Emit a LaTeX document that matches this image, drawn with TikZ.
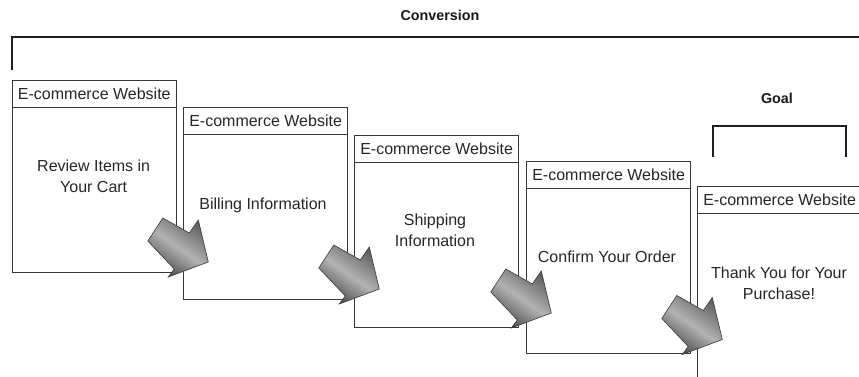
\documentclass[tikz,border=0pt]{standalone}
\usepackage{fontspec}
\setmainfont{Liberation Sans}
\begin{document}
\begin{tikzpicture}[x=1pt,y=-1pt,
  hdr/.style={draw=black!78, line width=1.2pt, fill=white, minimum width=164pt, minimum height=27pt, inner sep=0pt, anchor=north west, text=black!85, font=\fontsize{16}{18}\selectfont},
  bodybox/.style={draw=black!78, line width=1.2pt, fill=white, minimum width=164pt, minimum height=165pt, inner sep=0pt, anchor=north west},
  bodytext/.style={align=center, inner sep=0pt, text=black!85, font=\fontsize{16}{21}\selectfont},
  bracket/.style={draw=black!88, line width=2.4pt},
  titletext/.style={inner sep=0pt, text=black!90, font=\fontsize{14.3}{16}\selectfont\bfseries},
  flowarrow/.pic={
    \shade[draw=black!78, line width=0.6pt, top color=black!62, bottom color=black!72, middle color=black!30, shading angle=-35]
      (-45.5,-44) -- (-19,-29) -- (-10,-42) -- (0,0) -- (-40,15) -- (-34,7) -- (-60.5,-21) -- cycle;
  }]
\useasboundingbox (0,0) rectangle (859,377);
\clip (0,0) rectangle (859,377);

% titles and brackets
\node[titletext] (conv) at (440,15) {Conversion};
\draw[bracket] (11.7,70) -- (11.7,37.3) -- (870,37.3);
\node[titletext] (goal) at (777,98) {Goal};
\draw[bracket] (712.7,157) -- (712.7,126) -- (845.7,126) -- (845.7,157);

% box 1
\node[bodybox] (b1) at (11.7,107) {};
\node[hdr] (h1) at (11.7,80) {E-commerce Website};
\node[bodytext] (t1) at (93.7,176.5) {Review Items in\\Your Cart};
% box 2
\node[bodybox] (b2) at (183,134) {};
\node[hdr] (h2) at (183,107) {E-commerce Website};
\node[bodytext] (t2) at (263,205) {Billing Information};
% box 3
\node[bodybox] (b3) at (354,162) {};
\node[hdr] (h3) at (354,135) {E-commerce Website};
\node[bodytext] (t3) at (435,230) {Shipping\\Information};
% box 4
\node[bodybox] (b4) at (526,188) {};
\node[hdr] (h4) at (526,161) {E-commerce Website};
\node[bodytext] (t4) at (607,257) {Confirm Your Order};
% box 5 (cut off at the right and bottom)
\node[bodybox, minimum height=180pt] (b5) at (697,213) {};
\node[hdr] (h5) at (697,185.5) {E-commerce Website};
\node[bodytext] (t5) at (779,283) {Thank You for Your\\Purchase!};

% arrows
\pic at ([shift={(25.3,155)}]h2.north west) {flowarrow};
\pic at ([shift={(25.3,154)}]h3.north west) {flowarrow};
\pic at ([shift={(25.3,152)}]h4.north west) {flowarrow};
\pic at ([shift={(25.3,154)}]h5.north west) {flowarrow};
\end{tikzpicture}
\end{document}
